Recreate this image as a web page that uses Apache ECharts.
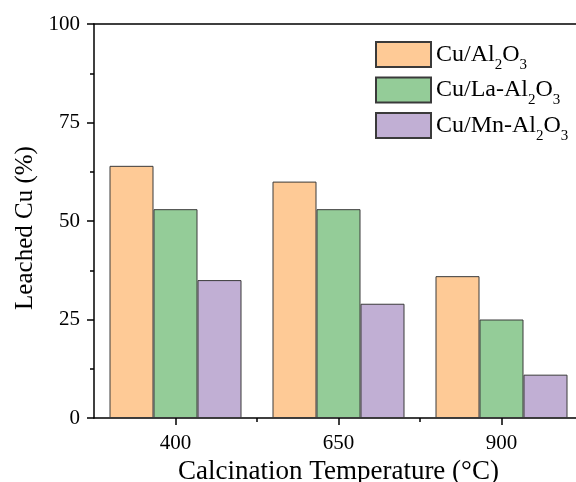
<!DOCTYPE html>
<html>
<head>
<meta charset="utf-8">
<script src="https://cdn.jsdelivr.net/npm/echarts@6/dist/echarts.min.js"></script>
<style>
  html, body { margin: 0; padding: 0; background: #fff; }
  #chart { width: 576px; height: 482px; }
</style>
</head>
<body>
<div id="chart"></div>
<script>
// calcination temperatures (x positions) and leached Cu (%)
const temps = [400, 650, 900]
const cuAl2O3 = [64, 60, 36]
const cuLaAl2O3 = [53, 53, 25]
const cuMnAl2O3 = [35, 29, 11]
const yTicks = [0, 25, 50, 75, 100]

const FONT = '"Liberation Serif", "Times New Roman", serif'
const colors = ['#FECA96', '#94CC98', '#C1AFD4']

// legend labels with subscripts
const legendRich = {
  n: { fontFamily: FONT, fontSize: 24, color: '#000', lineHeight: 24, verticalAlign: 'bottom' },
  s: { fontFamily: FONT, fontSize: 15, color: '#000', lineHeight: 15, verticalAlign: 'bottom', padding: [0, 0, -6, 0] }
}
const legendText = {
  'Cu/Al2O3': '{n|Cu/Al}{s|2}{n|O}{s|3}',
  'Cu/La-Al2O3': '{n|Cu/La-Al}{s|2}{n|O}{s|3}',
  'Cu/Mn-Al2O3': '{n|Cu/Mn-Al}{s|2}{n|O}{s|3}'
}

const pairs = (vals) => temps.map((t, i) => [t, vals[i]])

const barStyle = (c) => ({ color: c, borderColor: '#3a3a3a', borderWidth: 1 })

const axisLineStyle = { color: '#000', width: 1.5 }

const chart = echarts.init(document.getElementById('chart'), null, { renderer: 'canvas' })

chart.setOption({
  animation: false,
  backgroundColor: '#fff',
  grid: {
    left: 94, top: 24, width: 489, height: 394,
    outerBoundsMode: 'none', containLabel: false
  },
  legend: {
    orient: 'vertical', left: 375, top: 41, padding: 0,
    itemWidth: 55, itemHeight: 25, itemGap: 4,
    icon: 'rect',
    data: ['Cu/Al2O3', 'Cu/La-Al2O3', 'Cu/Mn-Al2O3'],
    formatter: (name) => legendText[name],
    textStyle: { rich: legendRich }
  },
  xAxis: [
    {
      type: 'value', min: 275, max: 1025,
      splitLine: { show: false },
      axisLine: { lineStyle: axisLineStyle },
      axisTick: { customValues: [400, 650, 900], length: 7, inside: false, lineStyle: axisLineStyle },
      axisLabel: { customValues: temps, margin: 15, fontFamily: FONT, fontSize: 21, color: '#000' },
      name: 'Calcination Temperature (°C)',
      nameLocation: 'middle', nameGap: 37,
      nameTextStyle: { fontFamily: FONT, fontSize: 27, color: '#000' }
    },
    {
      // minor ticks between the temperatures
      type: 'value', min: 275, max: 1025, position: 'bottom',
      splitLine: { show: false },
      axisLine: { show: false },
      axisTick: { customValues: [525, 775], length: 4, lineStyle: axisLineStyle },
      axisLabel: { show: false }
    },
    {
      // top frame line
      type: 'value', min: 275, max: 1025, position: 'top',
      splitLine: { show: false },
      axisLine: { show: true, lineStyle: axisLineStyle },
      axisTick: { show: false },
      axisLabel: { show: false }
    }
  ],
  yAxis: {
    type: 'value', min: 0, max: 100, interval: 25,
    splitLine: { show: false },
    axisLine: { show: true, lineStyle: axisLineStyle },
    axisTick: { show: true, length: 7, lineStyle: axisLineStyle },
    minorTick: { show: true, splitNumber: 2, length: 4, lineStyle: axisLineStyle },
    axisLabel: {
      margin: 14, fontFamily: FONT, fontSize: 21, color: '#000',
      formatter: (v) => yTicks.includes(v) ? String(v) : ''
    },
    name: 'Leached Cu (%)',
    nameLocation: 'middle', nameGap: 56,
    nameTextStyle: { fontFamily: FONT, fontSize: 25, color: '#000', padding: [0, 14, 0, 0] }
  },
  series: [
    { name: 'Cu/Al2O3', type: 'bar', xAxisIndex: 0, data: pairs(cuAl2O3), barWidth: 44, barGap: '0%', itemStyle: barStyle(colors[0]) },
    { name: 'Cu/La-Al2O3', type: 'bar', xAxisIndex: 0, data: pairs(cuLaAl2O3), barWidth: 44, barGap: '0%', itemStyle: barStyle(colors[1]) },
    { name: 'Cu/Mn-Al2O3', type: 'bar', xAxisIndex: 0, data: pairs(cuMnAl2O3), barWidth: 44, barGap: '0%', itemStyle: barStyle(colors[2]) }
  ]
})
</script>
</body>
</html>
